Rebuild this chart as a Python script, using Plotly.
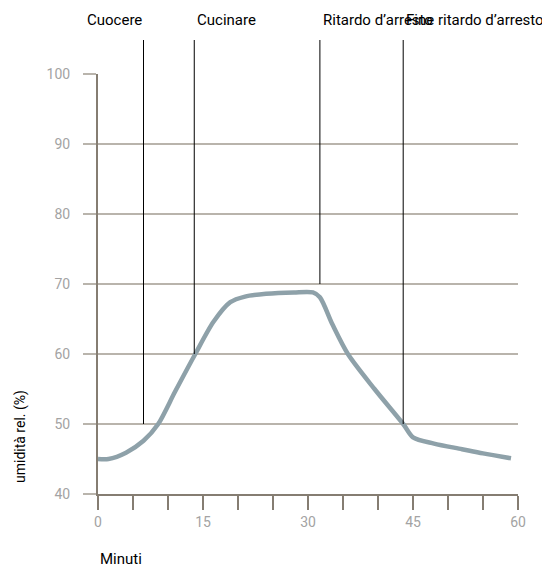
import plotly.graph_objects as go

# humidity curve
minutes = [0, 1.5, 4, 6.5, 8.6, 11, 13.9, 16.5, 18.9, 21, 24, 28, 30.7, 31.7, 33.5, 35.7, 39.5, 43.6, 45, 48, 52, 55, 59]
humidity = [45, 45, 45.9, 47.6, 50, 54.6, 60, 64.6, 67.4, 68.2, 68.6, 68.8, 68.8, 68.1, 64.2, 60, 55, 50, 48.1, 47.2, 46.4, 45.8, 45.1]

# phase markers
phase_names = ["Cuocere", "Cucinare", "Ritardo d\u2019arresto", "Fine ritardo d\u2019arresto"]
phase_minutes = [6.5, 13.75, 31.7, 43.6]
phase_values = [50, 60, 70, 50]

x_ticks = list(range(0, 61, 5))
x_labels = [str(v) if v % 15 == 0 else "" for v in x_ticks]
y_ticks = [40, 50, 60, 70, 80, 90, 100]

grid_col = "#b9b4ac"
axis_col = "#857d72"
curve_col = "#8ea1a9"
tick_font = dict(family="Roboto", size=14, color="#a3a3a3")
label_font = dict(family="Roboto", size=15, color="black")

# page body adds an 8px margin, so the figure is 8px smaller
W, H = 542, 557
L, T, PW, PH = 90, 66, 420, 420
B = H - T - PH


def paper_y(px):
    return (T + PH - px) / PH


fig = go.Figure()
fig.add_trace(go.Scatter(
    x=minutes, y=humidity, mode="lines",
    line=dict(color=curve_col, width=4.5, shape="spline", smoothing=0.8),
    showlegend=False, hoverinfo="skip",
))

top = paper_y(T - 34)
for name, m, v in zip(phase_names, phase_minutes, phase_values):
    fig.add_shape(type="line", xref="x", yref="paper",
                  x0=m, x1=m, y0=(v - 40) / 60, y1=top,
                  line=dict(color="black", width=1))
    fig.add_annotation(x=m, y=paper_y(12), xref="x", yref="paper",
                       text=name, showarrow=False, yanchor="middle",
                       xanchor="right" if name == "Cuocere" else "left",
                       xshift=1 if name != "Cuocere" else 0,
                       font=label_font)

fig.add_annotation(x=0, xref="x", y=paper_y(551), yref="paper", text="Minuti",
                   showarrow=False, xanchor="left", yanchor="middle",
                   font=label_font)
fig.add_annotation(x=(12 - L) / PW, xref="paper", y=paper_y(429), yref="paper",
                   text="umidità rel. (%)", showarrow=False, textangle=-90,
                   xanchor="center", yanchor="middle",
                   font=dict(family="Roboto", size=14, color="black"))

fig.update_layout(
    width=W, height=H,
    margin=dict(l=L, r=W - L - PW, t=T, b=B),
    plot_bgcolor="white", paper_bgcolor="white",
    xaxis=dict(range=[0, 60], tickvals=x_ticks, ticktext=x_labels,
               showgrid=False, zeroline=False, showline=True,
               linecolor=axis_col, linewidth=2,
               ticks="outside", ticklen=14, tickwidth=2, tickcolor=axis_col,
               ticklabelstandoff=0, tickfont=tick_font),
    yaxis=dict(range=[40, 100], tickvals=y_ticks,
               showgrid=True, gridcolor=grid_col, gridwidth=2,
               zeroline=False, showline=True, linecolor=axis_col, linewidth=2,
               ticks="outside", ticklen=13, tickwidth=2, tickcolor=grid_col,
               ticklabelstandoff=10, tickfont=tick_font),
)

fig.write_html("out.html")
